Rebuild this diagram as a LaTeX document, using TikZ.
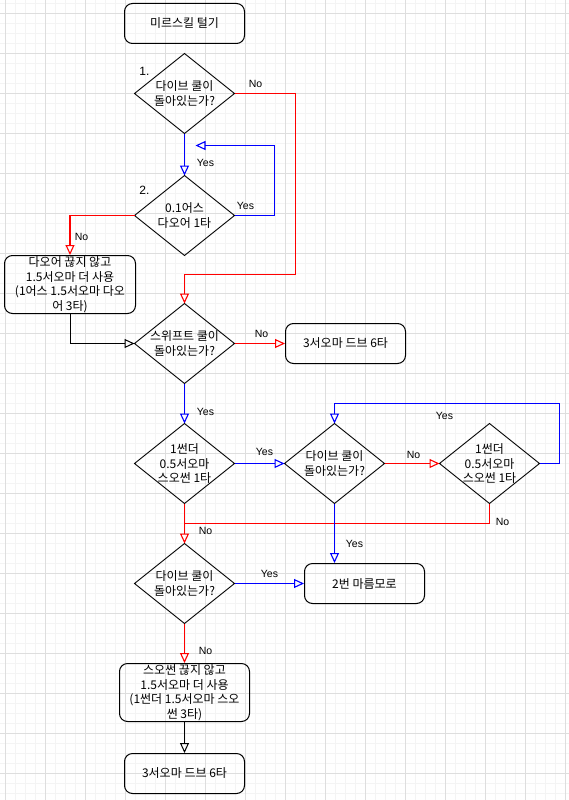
\documentclass[tikz,border=0pt]{standalone}
\usepackage{fontspec}
\setmainfont{Noto Sans CJK KR}
\newfontfamily\lat{Liberation Sans}
\usetikzlibrary{arrows.meta,shapes.geometric}
\newcommand\fsz{\fontsize{12}{14.5}\selectfont}
\definecolor{gmin}{HTML}{F4F4F4}
\definecolor{gmaj}{HTML}{DEDEDE}
\definecolor{rr}{HTML}{FF0000}
\definecolor{bb}{HTML}{0000FF}
\tikzset{
  box/.style={draw, rounded corners=8pt, line width=1pt, minimum width=120pt, minimum height=40pt, align=center, font=\fsz, inner sep=0pt},
  dia/.style={draw, diamond, minimum width=100pt, minimum height=80pt, inner sep=0pt, outer sep=0pt, line width=0.9pt},
  txt/.style={align=center, font=\fsz, inner sep=0pt},
  lbl/.style={font=\lat\fontsize{10.5}{12}\selectfont, inner sep=0pt},
  num/.style={font=\lat\fontsize{12}{14}\selectfont, inner sep=0pt},
  tip/.style={-{Triangle[open,length=10pt,width=9pt]}},
  rline/.style={color=rr, line width=1.1pt, tip},
  rplain/.style={color=rr, line width=1.1pt},
  bline/.style={color=bb, line width=1.1pt, tip},
  kline/.style={color=black, line width=1pt, tip},
}
\begin{document}
\begin{tikzpicture}[x=1pt,y=-1pt]
\useasboundingbox (0,0) rectangle (568,800);
\fill[white] (0,0) rectangle (568,800);
\begin{scope}[shift={(0.5,0.5)}]
\foreach \x in {5,15,...,565} \draw[gmin, line width=1pt] (\x,-1) -- (\x,800);
\foreach \y in {3,13,...,793} \draw[gmin, line width=1pt] (-1,\y) -- (568,\y);
\foreach \x in {5,45,...,565} \draw[gmaj, line width=1pt] (\x,-1) -- (\x,800);
\foreach \y in {13,53,...,793} \draw[gmaj, line width=1pt] (-1,\y) -- (568,\y);

% nodes
\node[box] (start) at (184,23) {미르스킬 털기};

\node[dia] (d1) at (184,93) {};
\node[txt] (t1) at (d1.center) {다이브 쿨이\\돌아있는가?};
\node[num] (n1) at (144,71) {1.};

\node[dia] (d2) at (184,215) {};
\node[txt] (t2) at (d2.center) {0.1어스\\다오어 1타};
\node[num] (n2) at (144,190) {2.};

\node[box, minimum width=131pt, minimum height=58pt] (b2) at (69.5,284) {다오어 끊지 않고\\1.5서오마 더 사용\\(1어스 1.5서오마 다오\\어 3타)};

\node[dia] (d3) at (184,343) {};
\node[txt] (t3) at (d3.center) {스위프트 쿨이\\돌아있는가?};

\node[box] (b3) at (345,343) {3서오마 드브 6타};

\node[dia] (d4) at (184,463) {};
\node[txt] (t4) at (d4.center) {1썬더\\0.5서오마\\스오썬 1타};

\node[dia] (d5) at (334,463) {};
\node[txt] (t5) at (d5.center) {다이브 쿨이\\돌아있는가?};

\node[dia] (d6) at (489,463) {};
\node[txt] (t6) at (d6.center) {1썬더\\0.5서오마\\스오썬 1타};

\node[dia] (d7) at (184,583) {};
\node[txt] (t7) at (d7.center) {다이브 쿨이\\돌아있는가?};

\node[box] (b4) at (364,583) {2번 마름모로};

\node[box, minimum width=130pt, minimum height=58pt] (b5) at (184,692) {스오썬 끊지 않고\\1.5서오마 더 사용\\(1썬더 1.5서오마 스오\\썬 3타)};

\node[box] (b6) at (184,773) {3서오마 드브 6타};

% bend coordinates
\coordinate (c0) at (295,93);
\coordinate (c1) at (295,274);
\coordinate (c1b) at (184,274);
\coordinate (c2) at (274,215);
\coordinate (c2b) at (274,145);
\coordinate (e2) at (195,145);
\coordinate (c3) at (559,463);
\coordinate (c3b) at (559,403);
\coordinate (c3c) at (334,403);
\coordinate (c4) at (184,523);
\coordinate (c4b) at (489,523);

% connectors
\draw[rline] (d1.east) -- (c0) -- (c1) -- (c1b) -- (d3.north);
\draw[bline] (d1.south) -- (d2.north);
\draw[bline] (d2.east) -- (c2) -- (c2b) -- (e2);
\draw[rline] (d2.west) -| (b2.north);
\draw[kline] (b2.south) |- (d3.west);
\draw[rline] (d3.east) -- (b3.west);
\draw[bline] (d3.south) -- (d4.north);
\draw[bline] (d4.east) -- (d5.west);
\draw[rline] (d5.east) -- (d6.west);
\draw[bline] (d6.east) -- (c3) -- (c3b) -- (c3c) -- (d5.north);
\draw[rplain] (d6.south) -- (c4b) -- (c4);
\draw[rline] (d4.south) -- (d7.north);
\draw[bline] (d5.south) -- (d5.south |- b4.north);
\draw[bline] (d7.east) -- (b4.west);
\draw[rline] (d7.south) -- (b5.north);
\draw[kline] (b5.south) -- (b6.north);

% labels
\node[lbl] (l1) at (255,83) {No};
\node[lbl] (l2) at (205,162) {Yes};
\node[lbl] (l3) at (245,205) {Yes};
\node[lbl] (l4) at (81,236) {No};
\node[lbl] (l5) at (261,333) {No};
\node[lbl] (l6) at (205,411) {Yes};
\node[lbl] (l7) at (264,451) {Yes};
\node[lbl] (l8) at (413,454) {No};
\node[lbl] (l9) at (444,415) {Yes};
\node[lbl] (l10) at (502,521) {No};
\node[lbl] (l11) at (205,530) {No};
\node[lbl] (l12) at (354,543) {Yes};
\node[lbl] (l13) at (269,573) {Yes};
\node[lbl] (l14) at (205,650) {No};
\end{scope}
\end{tikzpicture}
\end{document}
